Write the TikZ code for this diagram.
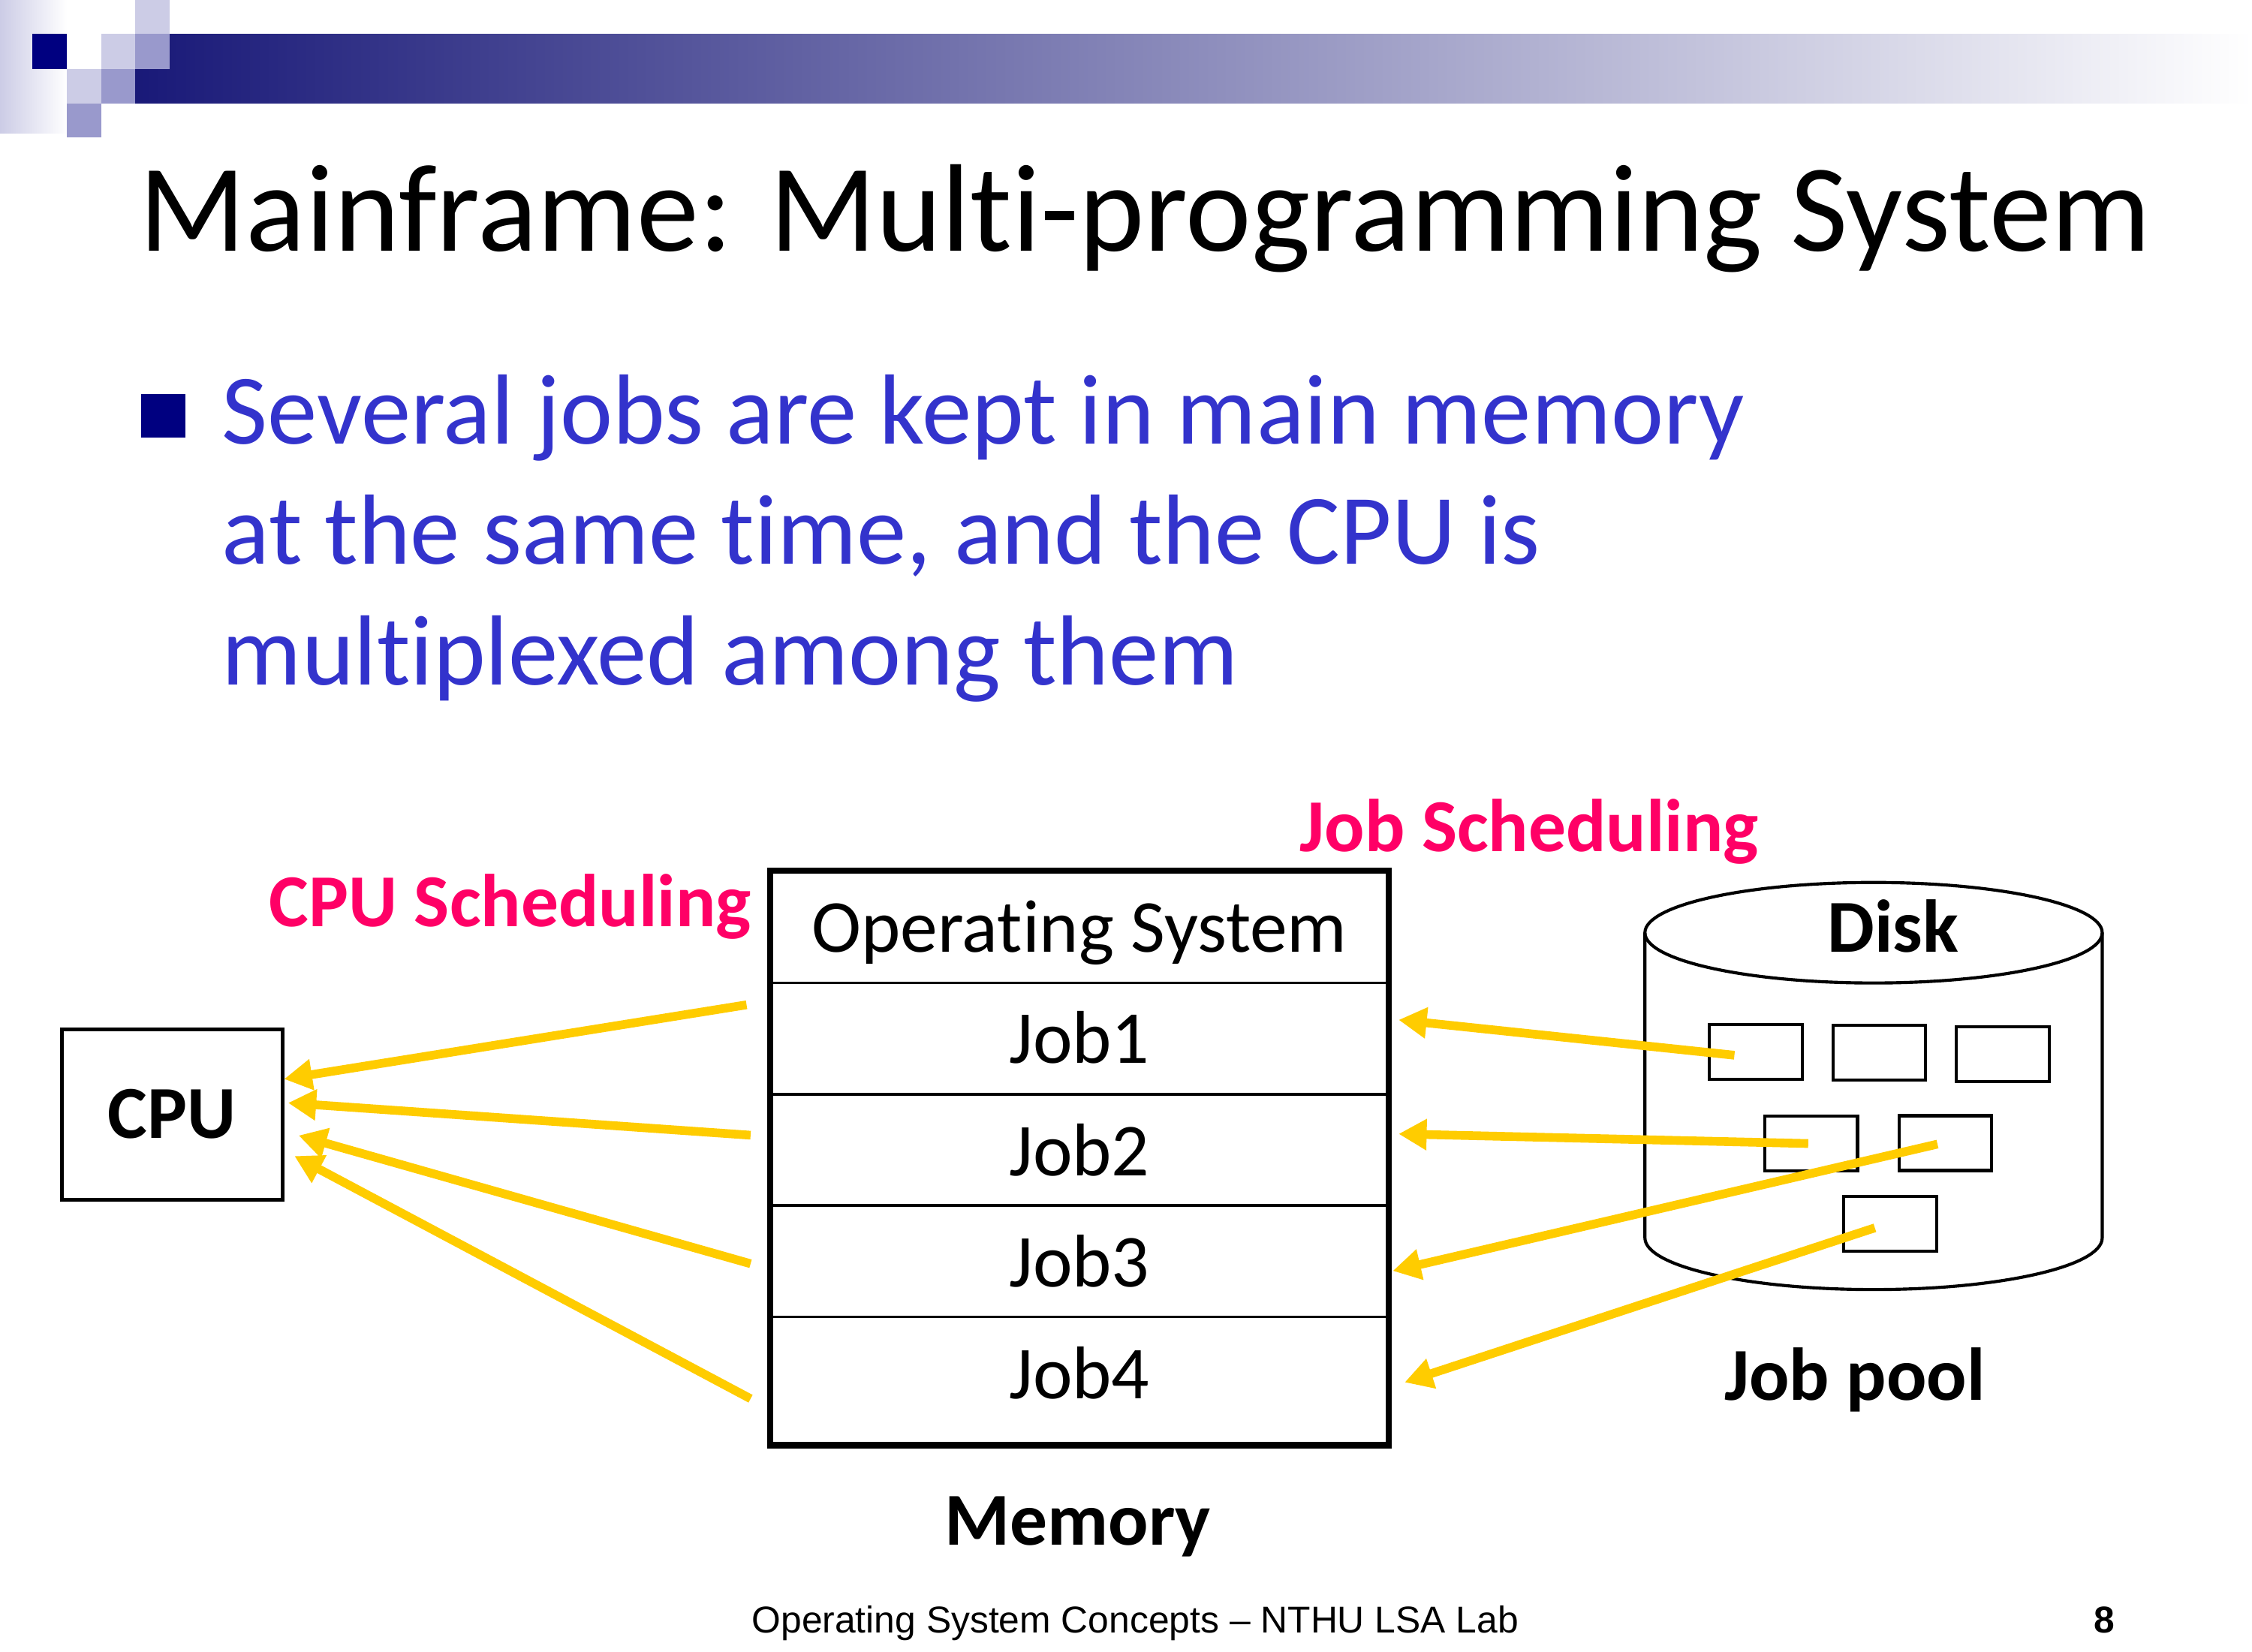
\documentclass[tikz,border=0pt]{standalone}
\usepackage{fontspec}
\setmainfont{Carlito}[Ligatures={NoCommon}]
\newfontfamily\footfont{Liberation Sans}
\usetikzlibrary{arrows.meta}

\definecolor{navy}{RGB}{0,0,128}
\definecolor{lav}{RGB}{204,204,230}
\definecolor{midlav}{RGB}{153,153,204}
\definecolor{barnavy}{RGB}{25,25,120}
\definecolor{bodyblue}{RGB}{51,51,204}
\definecolor{hotpink}{RGB}{255,0,102}
\definecolor{gold}{RGB}{255,204,0}

\begin{document}
\begin{tikzpicture}[x=0.0162cm, y=-0.0162cm,
  every node/.style={inner sep=0pt, outer sep=0pt},
  slidetitle/.style={anchor=base west, font=\fontsize{40}{48}\selectfont},
  bodyline/.style={anchor=base west, text=bodyblue, font=\fontsize{32}{38}\selectfont},
  celltext/.style={anchor=base, font=\fontsize{24}{29}\selectfont},
  boldlabel/.style={anchor=base, font=\fontsize{24}{29}\selectfont\bfseries},
  schedlabel/.style={anchor=base west, text=hotpink, font=\fontsize{24}{29}\selectfont\bfseries},
  footer/.style={anchor=base west, font=\footfont\fontsize{12}{14}\selectfont},
  jobslot/.style={draw, line width=1pt, minimum width=29.8pt, minimum height=17.6pt},
  cpubox/.style={draw, line width=1.2pt, minimum width=70.8pt, minimum height=54.7pt,
                 font=\fontsize{24}{29}\selectfont\bfseries},
  flow/.style={draw=gold, line width=2.8pt, -{Triangle[length=9pt,width=9.5pt]}}]

\useasboundingbox (0,0) rectangle (1568,1150);

% header ornament: faded strip, gradient bar and squares
\shade[left color=lav, right color=white] (0,0) rectangle (46.6,93);
\shade[left color=barnavy, right color=white] (94,23.6) rectangle (1568,72);
\fill[lav]    (94,0)     rectangle (118,23.6);
\fill[navy]   (22.6,23.6) rectangle (46.6,48);
\fill[lav]    (70.4,23.6) rectangle (94,48);
\fill[midlav] (94,23.6)  rectangle (118,48);
\fill[lav]    (46.6,48)  rectangle (70.4,72);
\fill[midlav] (70.4,48)  rectangle (94,72);
\fill[midlav] (46.6,72)  rectangle (70.4,95.6);

% title and bullet
\node[slidetitle] (title) at (97,175) {Mainframe: Multi-programming System};
\fill[navy] (98.3,274.4) rectangle (129,304.8);
\node[bodyline] (line1) at (154.7,309) {Several jobs are kept in main memory};
\node[bodyline] (line2) at (154.7,393) {at the same time, and the CPU is};
\node[bodyline] (line3) at (154.7,477) {multiplexed among them};

% CPU
\node[cpubox] (cpu) at (119.85,775.95) {CPU};
\node[schedlabel] (cpusched) at (187.5,645) {CPU Scheduling};

% memory partitions
\draw[line width=0.9pt] (536,684.4) -- (967,684.4)
                        (536,762)   -- (967,762)
                        (536,839.4) -- (967,839.4)
                        (536,917)   -- (967,917);
\node[draw, line width=2pt, minimum width=198.6pt, minimum height=184.5pt] (mem) at (751.5,806.25) {};
\node[celltext] (osrow) at (751.5,663)   {Operating System};
\node[celltext] (job1)  at (751.5,740.5) {Job1};
\node[celltext] (job2)  at (751.5,818.5) {Job2};
\node[celltext] (job3)  at (751.5,896)   {Job3};
\node[celltext] (job4)  at (751.5,974)   {Job4};
\node[boldlabel] (memlabel) at (750.5,1076) {Memory};
\node[schedlabel] (jobsched) at (905,593) {Job Scheduling};

% disk cylinder
\draw[line width=1pt] (1304.5,649.5) ellipse [x radius=159.2, y radius=35];
\draw[line width=1pt] (1145.3,649.5) -- (1145.3,862)
   arc[start angle=180, end angle=0, x radius=159.2, y radius=36] -- (1463.7,649.5);
\node[boldlabel] (disklabel) at (1318,663) {Disk};
\node[boldlabel] (pool) at (1291.5,975) {Job pool};

% jobs waiting on disk
\node[jobslot] (b1) at (1222.5,732.5) {};
\node[jobslot] (b2) at (1308.5,733)   {};
\node[jobslot] (b3) at (1394.5,734)   {};
\node[jobslot] (b4) at (1261,796.3)   {};
\node[jobslot] (b5) at (1354.5,796)   {};
\node[jobslot] (b6) at (1316,852)     {};

% CPU scheduling arrows
\coordinate (c1s) at (519.8,699.7); \coordinate (c1t) at (197.8,751.4);
\coordinate (c2s) at (522.6,790.5); \coordinate (c2t) at (200.6,768);
\coordinate (c3s) at (522.6,880);   \coordinate (c3t) at (207.9,790.7);
\coordinate (c4s) at (522.6,974);   \coordinate (c4t) at (205,805);
\draw[flow] (c1s) -- (c1t);
\draw[flow] (c2s) -- (c2t);
\draw[flow] (c3s) -- (c3t);
\draw[flow] (c4s) -- (c4t);

% job scheduling arrows
\coordinate (d1s) at (1207.6,734.8); \coordinate (d1t) at (973.8,710.2);
\coordinate (d2s) at (1259,796.3);   \coordinate (d2t) at (973.8,789.6);
\coordinate (d3s) at (1349,796.7);   \coordinate (d3t) at (969.7,885);
\coordinate (d4s) at (1305.4,855);   \coordinate (d4t) at (978,962.6);
\draw[flow] (d1s) -- (d1t);
\draw[flow] (d2s) -- (d2t);
\draw[flow] (d3s) -- (d3t);
\draw[flow] (d4s) -- (d4t);

% footer
\node[footer] (foot) at (523.5,1137) {Operating System Concepts – NTHU LSA Lab};
\node[anchor=base east, font=\footfont\fontsize{12}{14}\selectfont\bfseries] (pagenum) at (1472.6,1137) {8};
\end{tikzpicture}
\end{document}
